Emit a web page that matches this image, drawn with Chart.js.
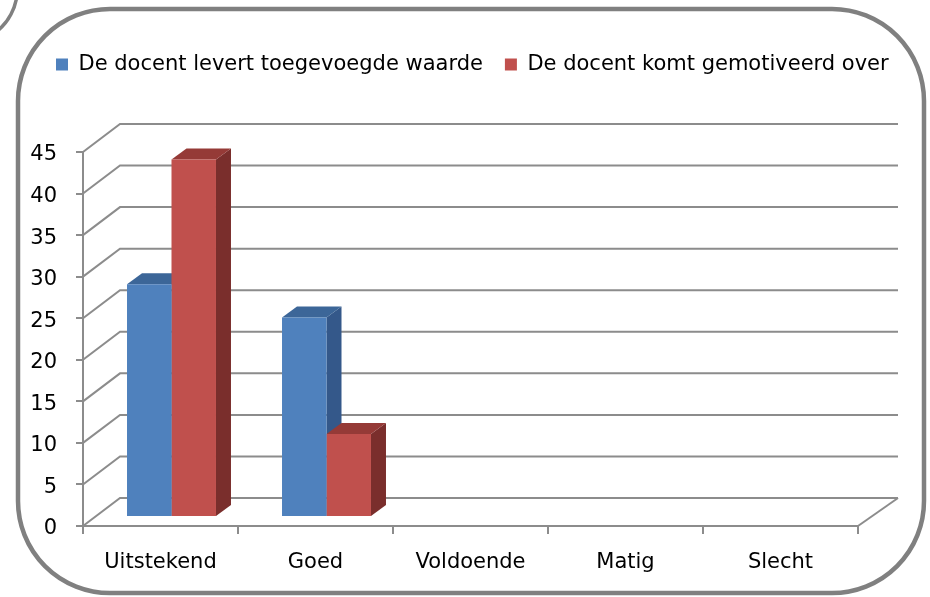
<!DOCTYPE html>
<html>
<head>
<meta charset="utf-8">
<script src="https://cdn.jsdelivr.net/npm/chart.js@4.4.1/dist/chart.umd.min.js"></script>
<style>
    html, body { margin: 0; padding: 0; background: #fff; }
    #wrap { width: 930px; height: 597px; }
</style>
</head>
<body>
<div id="wrap"><canvas id="chart" width="930" height="597"></canvas></div>
<script>
const categories = ['Uitstekend', 'Goed', 'Voldoende', 'Matig', 'Slecht'];
const toegevoegdeWaarde = [28, 24, 0, 0, 0];
const gemotiveerd = [43, 10, 0, 0, 0];
const seriesNames = ['De docent levert toegevoegde waarde', 'De docent komt gemotiveerd over'];
const yMax = 45;
const yStep = 5;

// 3D look
const wallDX = 37, wallDXRight = 40, wallDY = -28;   // front -> back wall
const barDX = 11, barDY = -9;                        // bars sit a bit into the depth
const depthDX = 15, depthDY = -11;                   // bar thickness
const gridColor = '#8c8c8c';
const shades = [
    { front: '#4F81BD', top: '#3C6698', side: '#34588A' },
    { front: '#C0504D', top: '#953A37', side: '#7A2E2C' }
];

Chart.defaults.font.family = "'DejaVu Sans', sans-serif";
Chart.defaults.font.size = 21;
Chart.defaults.color = '#000';

const framePlugin = {
    id: 'frame',
    beforeDraw(chart) {
        const ctx = chart.ctx;
        ctx.save();
        ctx.fillStyle = '#fff';
        ctx.fillRect(0, 0, chart.width, chart.height);
        ctx.strokeStyle = '#808080';
        ctx.lineWidth = 4.5;
        ctx.beginPath();
        ctx.roundRect(18, 9, 906, 584, 92);
        ctx.stroke();
        // edge of a neighbouring shape in the corner
        ctx.lineWidth = 3.5;
        ctx.beginPath();
        ctx.arc(-35, -10, 52, -0.3, 1.3);
        ctx.stroke();
        ctx.restore();
    }
};

const depthPlugin = {
    id: 'depth',
    beforeDatasetsDraw(chart) {
        const ctx = chart.ctx;
        const y = chart.scales.y;
        const { left, right } = chart.chartArea;
        ctx.save();
        ctx.strokeStyle = gridColor;
        ctx.lineWidth = 2;
        y.ticks.forEach(t => {
            const py = y.getPixelForValue(t.value);
            ctx.beginPath();
            ctx.moveTo(left, py);
            ctx.lineTo(left + wallDX, py + wallDY);
            ctx.lineTo(right + wallDXRight, py + wallDY);
            ctx.stroke();
        });
        // right edge of the floor
        const p0 = y.getPixelForValue(0);
        ctx.beginPath();
        ctx.moveTo(right, p0);
        ctx.lineTo(right + wallDXRight, p0 + wallDY);
        ctx.stroke();
        ctx.restore();

        ctx.save();
        ctx.translate(barDX, barDY);
        // side and top faces first, the library draws the front faces over them
        chart.data.datasets.forEach((ds, i) => {
            const c = shades[i];
            chart.getDatasetMeta(i).data.forEach(bar => {
                const p = bar.getProps(['x', 'y', 'base', 'width']);
                if (Math.abs(p.base - p.y) < 0.5) return;
                const x1 = p.x - p.width / 2, x2 = p.x + p.width / 2;
                ctx.fillStyle = c.side;
                ctx.beginPath();
                ctx.moveTo(x2, p.y);
                ctx.lineTo(x2 + depthDX, p.y + depthDY);
                ctx.lineTo(x2 + depthDX, p.base + depthDY);
                ctx.lineTo(x2, p.base);
                ctx.closePath();
                ctx.fill();
                ctx.fillStyle = c.top;
                ctx.beginPath();
                ctx.moveTo(x1, p.y);
                ctx.lineTo(x2, p.y);
                ctx.lineTo(x2 + depthDX, p.y + depthDY);
                ctx.lineTo(x1 + depthDX, p.y + depthDY);
                ctx.closePath();
                ctx.fill();
            });
        });
    },
    afterDatasetsDraw(chart) {
        chart.ctx.restore();
    }
};

// extra room under the legend, and move it right
const legendTweak = {
    id: 'legendTweak',
    beforeInit(chart) {
        const lg = chart.legend;
        const fit = lg.fit;
        lg.fit = function () {
            fit.call(lg);
            this.height = 120;
        };
        const draw = lg.draw;
        lg.draw = function () {
            chart.ctx.save();
            chart.ctx.translate(34, 0);
            draw.call(lg);
            chart.ctx.restore();
        };
    }
};

new Chart(document.getElementById('chart').getContext('2d'), {
    type: 'bar',
    data: {
        labels: categories,
        datasets: [
            { label: seriesNames[0], data: toegevoegdeWaarde, backgroundColor: shades[0].front, clip: false },
            { label: seriesNames[1], data: gemotiveerd, backgroundColor: shades[1].front, clip: false }
        ]
    },
    options: {
        responsive: false,
        animation: false,
        layout: { padding: { left: 0, right: 0, top: 32, bottom: 0 } },
        datasets: {
            bar: { categoryPercentage: 0.574, barPercentage: 1, borderWidth: 0 }
        },
        scales: {
            x: {
                grid: { drawOnChartArea: false, drawTicks: true, tickLength: 8, color: gridColor, lineWidth: 2, offset: true },
                border: { color: gridColor, width: 2 },
                ticks: { padding: 16, color: '#000', maxRotation: 0 },
                afterFit: s => { s.height = 71; }
            },
            y: {
                min: 0,
                max: yMax,
                grid: { drawOnChartArea: false, drawTicks: true, tickLength: 7, color: gridColor, lineWidth: 2 },
                border: { color: gridColor, width: 2 },
                ticks: { stepSize: yStep, padding: 19, labelOffset: 3, color: '#000' },
                afterFit: s => { s.width = 83; }
            },
            yRight: {
                type: 'linear',
                position: 'right',
                grid: { display: false },
                border: { display: false },
                ticks: { display: false },
                afterFit: s => { s.width = 72; }
            }
        },
        plugins: {
            legend: {
                position: 'top',
                align: 'start',
                labels: {
                    boxWidth: 12,
                    boxHeight: 12,
                    padding: 22,
                    color: '#000'
                }
            },
            tooltip: { enabled: false }
        }
    },
    plugins: [framePlugin, depthPlugin, legendTweak]
});
</script>
</body>
</html>
